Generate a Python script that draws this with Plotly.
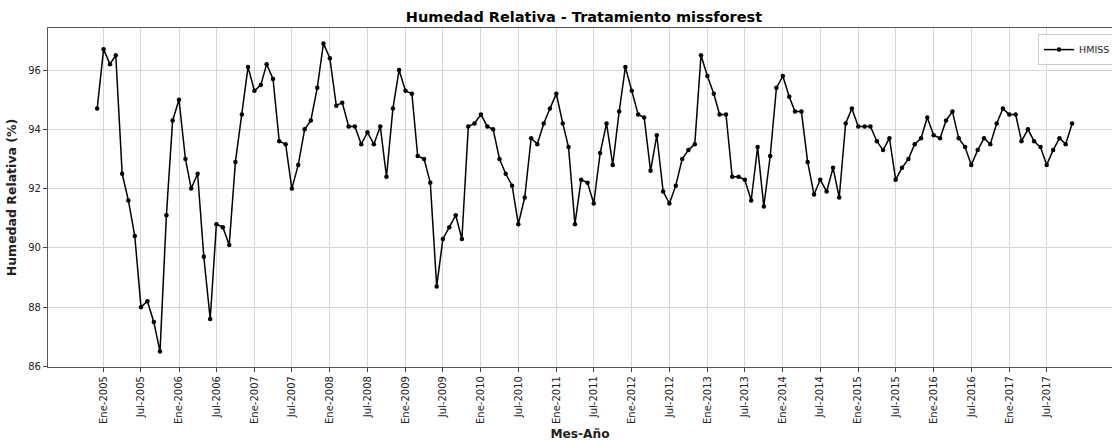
import pandas as pd
import plotly.graph_objects as go

# Monthly relative humidity (%), Dec 2004 - Nov 2017
start_month = "2004-12-01"
hmiss = [
    94.7,
    96.7, 96.2, 96.5, 92.5, 91.6, 90.4, 88.0, 88.2, 87.5, 86.5, 91.1, 94.3,  # 2005
    95.0, 93.0, 92.0, 92.5, 89.7, 87.6, 90.8, 90.7, 90.1, 92.9, 94.5, 96.1,  # 2006
    95.3, 95.5, 96.2, 95.7, 93.6, 93.5, 92.0, 92.8, 94.0, 94.3, 95.4, 96.9,  # 2007
    96.4, 94.8, 94.9, 94.1, 94.1, 93.5, 93.9, 93.5, 94.1, 92.4, 94.7, 96.0,  # 2008
    95.3, 95.2, 93.1, 93.0, 92.2, 88.7, 90.3, 90.7, 91.1, 90.3, 94.1, 94.2,  # 2009
    94.5, 94.1, 94.0, 93.0, 92.5, 92.1, 90.8, 91.7, 93.7, 93.5, 94.2, 94.7,  # 2010
    95.2, 94.2, 93.4, 90.8, 92.3, 92.2, 91.5, 93.2, 94.2, 92.8, 94.6, 96.1,  # 2011
    95.3, 94.5, 94.4, 92.6, 93.8, 91.9, 91.5, 92.1, 93.0, 93.3, 93.5, 96.5,  # 2012
    95.8, 95.2, 94.5, 94.5, 92.4, 92.4, 92.3, 91.6, 93.4, 91.4, 93.1, 95.4,  # 2013
    95.8, 95.1, 94.6, 94.6, 92.9, 91.8, 92.3, 91.9, 92.7, 91.7, 94.2, 94.7,  # 2014
    94.1, 94.1, 94.1, 93.6, 93.3, 93.7, 92.3, 92.7, 93.0, 93.5, 93.7, 94.4,  # 2015
    93.8, 93.7, 94.3, 94.6, 93.7, 93.4, 92.8, 93.3, 93.7, 93.5, 94.2, 94.7,  # 2016
    94.5, 94.5, 93.6, 94.0, 93.6, 93.4, 92.8, 93.3, 93.7, 93.5, 94.2,        # 2017
]
dates = pd.date_range(start_month, periods=len(hmiss), freq="MS")

# Semi-annual tick marks with Spanish month labels
tick_years = list(range(2005, 2018))
tick_dates = []
tick_labels = []
for yr in tick_years:
    tick_dates += [f"{yr}-01-01", f"{yr}-07-01"]
    tick_labels += [f"Ene-{yr}", f"Jul-{yr}"]

font_family = "DejaVu Sans"

fig = go.Figure()
fig.add_trace(go.Scatter(
    x=dates, y=hmiss, mode="lines+markers", name="HMISS",
    line=dict(color="black", width=1.5),
    marker=dict(color="black", size=4.5),
))

fig.update_layout(
    width=1112, height=441,
    margin=dict(l=48, r=0, t=28, b=74, autoexpand=False),
    paper_bgcolor="white", plot_bgcolor="white",
    font=dict(family=font_family, color="#222", size=10),
    title=dict(
        text="<b>Humedad Relativa - Tratamiento missforest</b>",
        x=(584 / 1112), xanchor="center", y=1 - 17 / 441, yanchor="middle",
        font=dict(size=14.5, color="black", family=font_family),
    ),
    showlegend=True,
    legend=dict(
        x=0.9305, y=0.982, xanchor="left", yanchor="top",
        bgcolor="rgba(255,255,255,0.8)", bordercolor="#cccccc", borderwidth=1,
        font=dict(size=9.5, color="#222", family=font_family),
        itemwidth=30, tracegroupgap=0,
    ),
)

fig.update_xaxes(
    type="date",
    range=["2004-04-07", "2018-05-13"],
    tickmode="array", tickvals=tick_dates, ticktext=tick_labels,
    tickangle=-90, ticks="outside", ticklen=4, tickcolor="#444",
    tickfont=dict(size=10, color="#222"),
    showgrid=True, gridcolor="#d6d6d6", gridwidth=1,
    showline=True, linecolor="#555", linewidth=1.2, mirror=True,
    zeroline=False,
    title=dict(text="<b>Mes-Año</b>", font=dict(size=12.2, color="#222"), standoff=6),
)
fig.update_yaxes(
    range=[85.98, 97.42],
    tickmode="array", tickvals=[86, 88, 90, 92, 94, 96],
    ticks="outside", ticklen=4, tickcolor="#444",
    tickfont=dict(size=10, color="#222"),
    showgrid=True, gridcolor="#d6d6d6", gridwidth=1,
    showline=True, linecolor="#555", linewidth=1.2, mirror=False,
    zeroline=False,
    title=dict(text="<b>Humedad Relativa (%)</b>", font=dict(size=12.5, color="#222"), standoff=8),
)

fig.write_html("out.html")
